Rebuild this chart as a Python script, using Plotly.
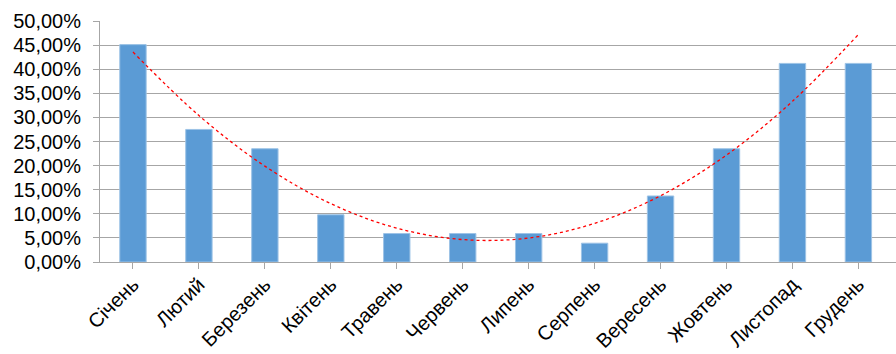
import numpy as np
import plotly.graph_objects as go

# Monthly share (%) per month
months = ["Січень", "Лютий", "Березень", "Квітень", "Травень", "Червень",
          "Липень", "Серпень", "Вересень", "Жовтень", "Листопад", "Грудень"]
share_pct = [45.1, 27.5, 23.5, 9.8, 5.9, 5.9, 5.9, 3.9, 13.7, 23.5, 41.2, 41.2]

values = np.array(share_pct) / 100.0
idx = np.arange(len(months))

# Second-order polynomial trend through the monthly values
coef = np.polyfit(idx + 1, values, 2)
trend = np.polyval(coef, idx + 1)

fig = go.Figure()
fig.add_trace(go.Bar(
    x=idx, y=values,
    marker=dict(color="#5b9bd5", line=dict(color="#9dc3e6", width=1)),
    width=0.4,
    showlegend=False,
    hoverinfo="skip",
))
fig.add_trace(go.Scatter(
    x=idx, y=trend, mode="lines",
    line=dict(color="#ff0000", width=1.3, dash="dot", shape="spline"),
    showlegend=False,
    hoverinfo="skip",
))

fig.update_layout(
    width=896, height=354,
    margin=dict(l=100, r=0, t=21, b=92),
    paper_bgcolor="white", plot_bgcolor="white",
    separators=", ",
    font=dict(family="Liberation Sans, Arial, sans-serif", size=20, color="#000000"),
    bargap=0.6,
)
fig.update_xaxes(
    tickmode="array", tickvals=idx, ticktext=months,
    range=[-0.5, 11.57],
    tickangle=-45,
    ticks="outside", ticklen=6, tickcolor="#a6a6a6", tickwidth=1,
    showline=True, linecolor="#a6a6a6", linewidth=1,
    showgrid=False, zeroline=False,
    tickfont=dict(size=20),
    ticklabelstandoff=-4,
    automargin=False,
)
fig.update_xaxes(tickson="boundaries")
fig.update_yaxes(
    range=[0, 0.5], dtick=0.05, tickformat=".2%",
    ticks="outside", ticklen=6, tickcolor="#a6a6a6", tickwidth=1,
    showline=True, linecolor="#a6a6a6", linewidth=1,
    showgrid=True, gridcolor="#a6a6a6", gridwidth=1,
    zeroline=False,
    tickfont=dict(size=20),
    ticklabelstandoff=8,
    automargin=False,
)

fig.write_html("out.html")
